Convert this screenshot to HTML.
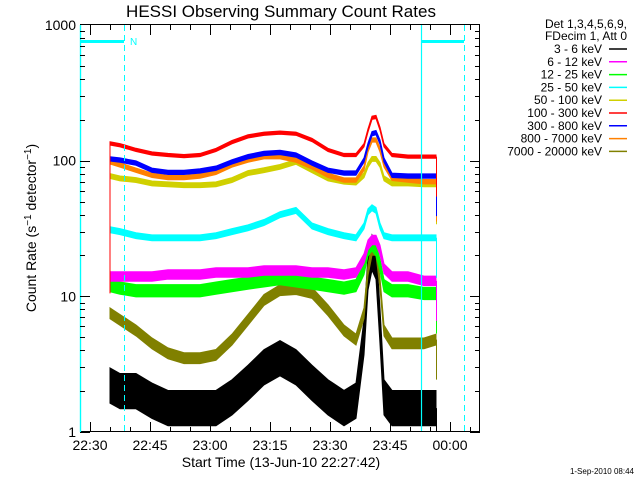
<!DOCTYPE html>
<html><head><meta charset="utf-8"><style>
html,body{margin:0;padding:0;background:#fff;}
svg{display:block;font-family:"Liberation Sans",sans-serif;}
</style></head><body>
<svg id="chart" width="640" height="480" viewBox="0 0 640 480">
<rect width="640" height="480" fill="#fff"/>
<text x="281" y="17" font-size="17" text-anchor="middle">HESSI Observing Summary Count Rates</text>
<g id="plot"></g>
<g id="axes"></g>
<text x="281" y="467" font-size="14" text-anchor="middle">Start Time (13-Jun-10 22:27:42)</text>
<text transform="translate(36,228) rotate(-90)" font-size="14" text-anchor="middle">Count Rate (s<tspan baseline-shift="super" font-size="10">−1</tspan> detector<tspan baseline-shift="super" font-size="10">−1</tspan>)</text>
<text x="634" y="474" font-size="8" text-anchor="end">1-Sep-2010 08:44</text>
<g id="legend"></g>
</svg>
<script>
const times=[7.5,10,14,18,22,26,30,34,38,42,46,50,54,58,62,66,69,71,72,73,74,75,76,78,82,86,89];
const labels=["3 - 6 keV","6 - 12 keV","12 - 25 keV","25 - 50 keV","50 - 100 keV","100 - 300 keV","300 - 800 keV","800 - 7000 keV","7000 - 20000 keV"];
const s3_6=[2.2,2,2,1.7,1.5,1.5,1.5,1.5,1.8,2.3,3,3.5,3,2.3,1.8,1.5,1.7,5,15,21,18,6,1.8,1.5,1.5,1.5,1.5];
const s6_12=[14,14,14,14,14.5,14.5,14.5,15,15,15,15.5,15.5,15.5,15,15,14.5,15,19,24,26,26,22,16,14,14,13,13];
const s12_25=[12,11.5,11,11,11,11,11,11.5,12,12.5,13,13.5,13,12.5,12,11.5,12,16,22,24,22,17,12,11,11,10.5,10.5];
const s25_50=[31,30,28,27,27,27,27,28,30,32,35,40,43,33,30,28,27,33,42,45,43,33,28,27,27,27,27];
const s50_100=[77,74,72,68,67,66,66,67,72,81,85,90,98,85,74,70,69,78,93,103,103,93,74,68,68,67,67];
const s100_300=[134,130,120,113,110,108,110,120,137,151,158,161,158,142,120,110,110,130,167,207,210,172,130,110,107,107,107];
const s300_800=[103,101,96,85,82,82,84,88,98,107,113,115,110,96,85,81,81,101,130,158,161,137,101,78,77,77,77];
const s800_7000=[98,93,85,78,75,75,77,82,93,101,107,107,101,90,78,72,72,88,120,142,142,120,93,74,72,70,70];
const s7000_20000=[7.5,6.7,5.6,4.5,3.8,3.5,3.5,3.7,4.8,6.7,9.4,11.1,11.3,10.6,7.9,5.6,4.8,7.5,15.6,22,22,12.5,5.6,4.5,4.5,4.5,4.8];
const xTickLabels=["22:30","22:45","23:00","23:15","23:30","23:45","00:00"];
const yTickLabels=["1","10","100","1000"];

const NS="http://www.w3.org/2000/svg";
const L=80,R=480,T=25,B=432;
function xs(t){return L+4*t;}
function ys(v){return B-(B-T)/3*Math.log10(v);}
function mk(tag,attrs,parent){const e=document.createElementNS(NS,tag);for(const k in attrs)e.setAttribute(k,attrs[k]);parent.appendChild(e);return e;}
const plot=document.getElementById('plot'),axes=document.getElementById('axes'),leg=document.getElementById('legend');

const series=[
 {d:s3_6,c:"#000000",n:0.13,name:"series-3-6-kev"},
 {d:s7000_20000,c:"#808000",n:0.04,name:"series-7000-20000-kev"},
 {d:s12_25,c:"#00ff00",n:0.045,name:"series-12-25-kev"},
 {d:s6_12,c:"#ff00ff",n:0.035,name:"series-6-12-kev"},
 {d:s25_50,c:"#00ffff",n:0.022,name:"series-25-50-kev"},
 {d:s50_100,c:"#d0d000",n:0.018,name:"series-50-100-kev"},
 {d:s800_7000,c:"#ff8000",n:0.016,name:"series-800-7000-kev"},
 {d:s300_800,c:"#0000ff",n:0.016,name:"series-300-800-kev"},
 {d:s100_300,c:"#ff0000",n:0.012,name:"series-100-300-kev"}
];
const defs=mk('defs',{},plot);const cp=mk('clipPath',{id:'clip'},defs);mk('rect',{x:L,y:T,width:R-L,height:B-T},cp);
const g0=mk('g',{'clip-path':'url(#clip)'},plot);
series.forEach(s=>{
  const up=[],dn=[];
  for(let i=0;i<times.length;i++){
    const x=xs(times[i]);
    up.push(x+','+ys(s.d[i]*Math.pow(10,s.n)));
    dn.unshift(x+','+ys(s.d[i]/Math.pow(10,s.n)));
  }
  const band=mk('polygon',{points:up.concat(dn).join(' '),fill:s.c,stroke:s.c,'stroke-width':1},g0);
  
  
  const xe=xs(times[times.length-1])+0.5;
  const drop=mk('line',{x1:xe,y1:ys(s.d[s.d.length-1]),x2:xe,y2:ys(s.d[s.d.length-1])+40,stroke:s.c,'stroke-width':1},g0);
  
  
});
const rise=mk('line',{x1:xs(times[0]),y1:ys(s100_300[0]),x2:xs(times[0]),y2:ys(s100_300[0])+150,stroke:'#ff0000','stroke-width':1},g0);


// cyan markers
[[80,124],[421,464]].forEach((p,i)=>{
  const b=mk('line',{x1:p[0],y1:41.5,x2:p[1],y2:41.5,stroke:'#00ffff','stroke-width':3},plot);
  
  
  const dl=mk('line',{x1:p[1]+0.5,y1:T,x2:p[1]+0.5,y2:B,stroke:'#00ffff','stroke-width':1,'stroke-dasharray':'6,4'},plot);
  
  
  const sl=mk('line',{x1:p[0]+0.5,y1:T,x2:p[0]+0.5,y2:B,stroke:'#00ffff','stroke-width':1.2},plot);
  
  
});
const nt=mk('text',{x:130,y:45,'font-size':10,fill:'#00ffff'},plot);nt.textContent='N';



const fr=mk('rect',{x:L+0.5,y:T-0.5,width:R-L-1,height:B-T,fill:'none',stroke:'#000','stroke-width':1},axes);


mk('line',{x1:L+0.5,y1:T,x2:L+0.5,y2:B,stroke:'#00ffff','stroke-width':1.2},axes);
for(let t=2.5;t<100;t+=5){
  const major=Math.round((t-2.5)/5)%3===0, len=major?10:5, x=xs(t)+0.5;
  const tb=mk('line',{x1:x,y1:B,x2:x,y2:B-len,stroke:'#000'},axes);
  
  
  mk('line',{x1:x,y1:T,x2:x,y2:T+len,stroke:'#000'},axes);
}
xTickLabels.forEach((lab,i)=>{
  const tx=mk('text',{x:xs(2.5+15*i),y:450,'font-size':14,'text-anchor':'middle'},axes);tx.textContent=lab;
  
  
});
for(let d=0;d<3;d++){for(let m=1;m<10;m++){
  const v=m*Math.pow(10,d),y=Math.round(ys(v))+0.5,len=m===1?10:5;
  const tl=mk('line',{x1:L,y1:y,x2:L+len,y2:y,stroke:'#000'},axes);
  
  
  mk('line',{x1:R,y1:y,x2:R-len,y2:y,stroke:'#000'},axes);
}}
yTickLabels.forEach((lab,i)=>{
  const tx=mk('text',{x:76,y:ys(Math.pow(10,i))+5,'font-size':14,'text-anchor':'end'},axes);tx.textContent=lab;
  
  
});
const lc=["#000000","#ff00ff","#00ff00","#00ffff","#d0d000","#ff0000","#0000ff","#ff8000","#808000"];
const h1=mk('text',{x:627,y:28,'font-size':12,'text-anchor':'end'},leg);h1.textContent='Det 1,3,4,5,6,9,';


const h2=mk('text',{x:627,y:40,'font-size':12,'text-anchor':'end'},leg);h2.textContent='FDecim 1, Att 0';


labels.forEach((lab,i)=>{
  const y=49+12.8*i;
  const t=mk('text',{x:602,y:y+4,'font-size':12,'text-anchor':'end'},leg);t.textContent=lab;
  
  
  const l=mk('line',{x1:609,y1:y,x2:627,y2:y,stroke:lc[i],'stroke-width':1.5},leg);
  
  
});
</script>
</body></html>
